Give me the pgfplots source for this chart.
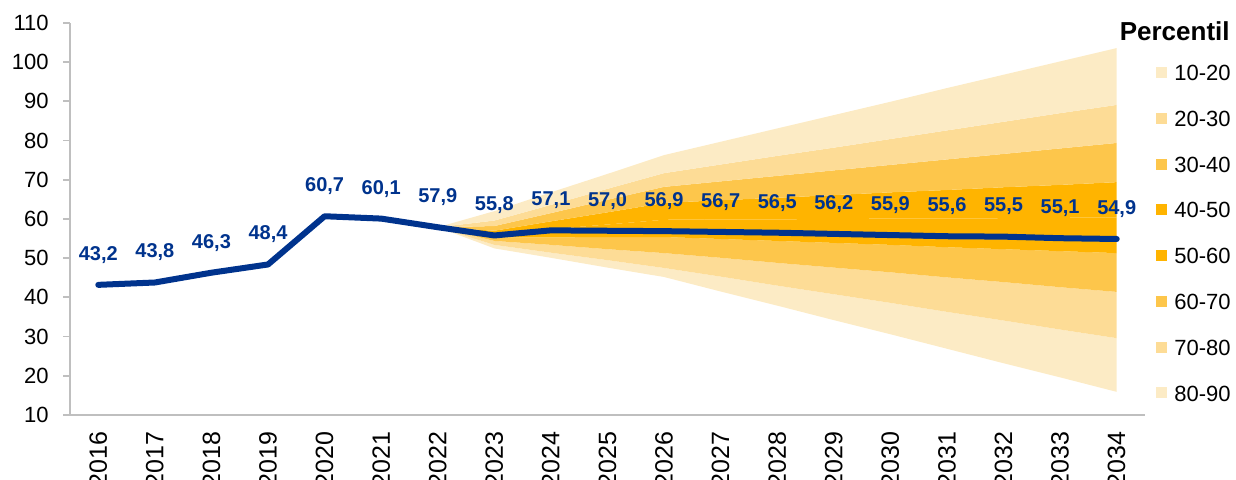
\documentclass[border=0pt]{standalone}
\usepackage{fontspec}
\setmainfont{Liberation Sans}
\usepackage{pgfplots}
\pgfplotsset{compat=1.18}
\usepackage{pgfplotstable}
\usepgfplotslibrary{fillbetween}

\definecolor{fanA}{RGB}{252,235,197}
\definecolor{fanB}{RGB}{253,220,150}
\definecolor{fanC}{RGB}{253,198,75}
\definecolor{fanD}{RGB}{255,180,0}
\definecolor{navyline}{RGB}{0,51,141}
\definecolor{axgray}{RGB}{191,191,191}

% percentile band limits, bottom to top
\pgfplotstableread{
year b1   b2   b3   b4   bm   b5   b6   b7   b8
2022 57.9 57.9 57.9 57.9 57.9 57.9 57.9 57.9 57.9
2023 52.5 53.4 54.4 55.3 56.2 57.0 58.2 59.6 62.0
2024 50.1 51.4 53.4 55.3 57.4 59.4 61.5 63.6 66.8
2025 47.6 49.5 52.3 55.4 58.6 61.7 64.9 67.7 71.5
2026 45.2 47.5 51.3 55.4 59.8 64.1 68.2 71.7 76.3
2027 41.5 45.3 50.1 54.9 59.9 64.8 69.6 73.9 79.7
2028 37.9 43.0 48.8 54.4 59.9 65.4 71.0 76.1 83.1
2029 34.2 40.8 47.6 53.9 60.0 66.1 72.4 78.2 86.5
2030 30.6 38.6 46.4 53.4 60.1 66.8 73.8 80.4 89.9
2031 26.9 36.3 45.1 52.8 60.1 67.4 75.2 82.6 93.4
2032 23.2 34.1 43.9 52.3 60.2 68.1 76.6 84.8 96.8
2033 19.6 31.8 42.6 51.8 60.3 68.7 78.0 87.0 100.2
2034 15.9 29.6 41.4 51.3 60.4 69.4 79.4 89.1 103.6
}\fan

\pgfplotstableread{
year val lab
2016 43.2 43,2
2017 43.8 43,8
2018 46.3 46,3
2019 48.4 48,4
2020 60.7 60,7
2021 60.1 60,1
2022 57.9 57,9
2023 55.8 55,8
2024 57.1 57,1
2025 57.0 57,0
2026 56.9 56,9
2027 56.7 56,7
2028 56.5 56,5
2029 56.2 56,2
2030 55.9 55,9
2031 55.6 55,6
2032 55.5 55,5
2033 55.1 55,1
2034 54.9 54,9
}\deuda

\begin{document}
\begin{tikzpicture}
\begin{axis}[
  at={(0,0)}, anchor=south west,
  scale only axis, width=537.5pt, height=196pt,
  xmin=2015.5, xmax=2034.5, ymin=10, ymax=110,
  clip=false,
  axis lines=left, axis line style={-, axgray, line width=0.9pt},
  xtick={2016,...,2034}, ytick={10,20,...,110},
  xtick align=inside, xtick style={draw=none},
  ytick align=outside, ytick style={axgray, line width=0.9pt},
  major tick length=3.5pt,
  xticklabel style={rotate=90, anchor=east, inner sep=0pt,
    font=\fontsize{12.5}{14}\selectfont},
  xticklabel shift=8pt,
  yticklabel style={anchor=east, inner sep=0pt, xshift=-7pt,
    font=\fontsize{11}{13}\selectfont},
  ticklabel style={text=black},
  /pgf/number format/assume math mode=true,
  /pgf/number format/1000 sep={},
  legend style={at={(1.0102,0.893)}, anchor=north west, draw=none, fill=none,
    inner sep=0pt, row sep=13.7pt, column sep=3.5pt,
    font=\fontsize{11}{13}\selectfont, nodes={inner sep=0pt}},
  legend cell align=left,
  legend image code/.code={\fill[#1,draw=none] (0pt,-1.8pt) rectangle (5.5pt,3.7pt);},
]
\addplot[draw=none, name path=b1, forget plot] table[x=year, y=b1]{\fan};
\addplot[draw=none, name path=b2, forget plot] table[x=year, y=b2]{\fan};
\addplot[draw=none, name path=b3, forget plot] table[x=year, y=b3]{\fan};
\addplot[draw=none, name path=b4, forget plot] table[x=year, y=b4]{\fan};
\addplot[draw=none, name path=bm, forget plot] table[x=year, y=bm]{\fan};
\addplot[draw=none, name path=b5, forget plot] table[x=year, y=b5]{\fan};
\addplot[draw=none, name path=b6, forget plot] table[x=year, y=b6]{\fan};
\addplot[draw=none, name path=b7, forget plot] table[x=year, y=b7]{\fan};
\addplot[draw=none, name path=b8, forget plot] table[x=year, y=b8]{\fan};

\addplot[fill=fanA, draw=none, forget plot] fill between[of=b1 and b2];
\addplot[fill=fanB, draw=none, forget plot] fill between[of=b2 and b3];
\addplot[fill=fanC, draw=none, forget plot] fill between[of=b3 and b4];
\addplot[fill=fanD, draw=none, forget plot] fill between[of=b4 and bm];
\addplot[fill=fanD, draw=none, forget plot] fill between[of=bm and b5];
\addplot[fill=fanC, draw=none, forget plot] fill between[of=b5 and b6];
\addplot[fill=fanB, draw=none, forget plot] fill between[of=b6 and b7];
\addplot[fill=fanA, draw=none, forget plot] fill between[of=b7 and b8];

\addplot[navyline, line width=3pt, line join=round, line cap=round, forget plot,
  point meta=explicit symbolic, nodes near coords, nodes near coords align={center},
  every node near coord/.append style={yshift=15pt, text=navyline,
    font=\bfseries\fontsize{10}{12}\selectfont}]
  table[x=year, y=val, meta=lab]{\deuda};

\addlegendimage{fill=fanA}\addlegendentry{10-20}
\addlegendimage{fill=fanB}\addlegendentry{20-30}
\addlegendimage{fill=fanC}\addlegendentry{30-40}
\addlegendimage{fill=fanD}\addlegendentry{40-50}
\addlegendimage{fill=fanD}\addlegendentry{50-60}
\addlegendimage{fill=fanC}\addlegendentry{60-70}
\addlegendimage{fill=fanB}\addlegendentry{70-80}
\addlegendimage{fill=fanA}\addlegendentry{80-90}

\node[anchor=east, inner sep=0pt, font=\bfseries\fontsize{13}{15}\selectfont]
  at (rel axis cs:1.0791,0.978) {Percentil};
\end{axis}
\pgfresetboundingbox
\path (-35pt,-32.5pt) rectangle (583pt,207.5pt);
\end{tikzpicture}
\end{document}
